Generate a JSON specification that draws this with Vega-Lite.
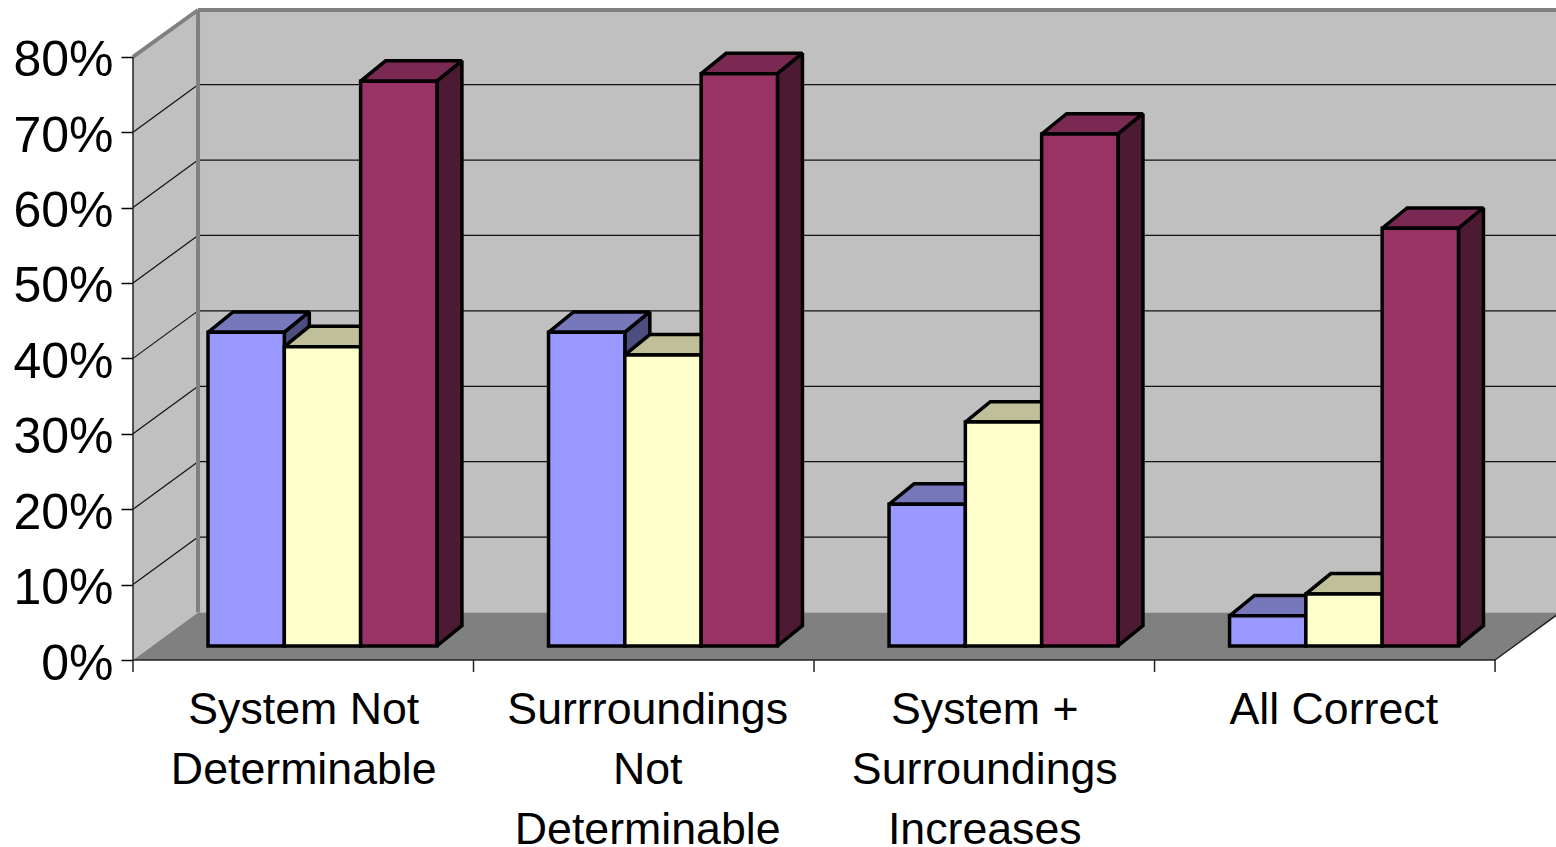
{
"$schema":"https://vega.github.io/schema/vega-lite/v6.json",
"width":1423,"height":650,"autosize":"none",
"padding":{"left":133,"top":10,"right":0,"bottom":187},
"background":"white",
"view":{"stroke":null},
"datasets":{
"bars":[
{"category":"System Not Determinable","series":"Series 1","value":41.6},
{"category":"System Not Determinable","series":"Series 2","value":39.7},
{"category":"System Not Determinable","series":"Series 3","value":74.9},
{"category":"Surrroundings Not Determinable","series":"Series 1","value":41.6},
{"category":"Surrroundings Not Determinable","series":"Series 2","value":38.6},
{"category":"Surrroundings Not Determinable","series":"Series 3","value":75.9},
{"category":"System + Surroundings Increases","series":"Series 1","value":18.8},
{"category":"System + Surroundings Increases","series":"Series 2","value":29.7},
{"category":"System + Surroundings Increases","series":"Series 3","value":67.9},
{"category":"All Correct","series":"Series 1","value":4.0},
{"category":"All Correct","series":"Series 2","value":6.9},
{"category":"All Correct","series":"Series 3","value":55.4}
],
"frame":[
{"id":"left","key":"wall","px":0,"lo":0,"hi":80},
{"id":"left","key":"wall","px":0.191,"lo":6.3,"hi":86.2},
{"id":"back","key":"wall","px":0.191,"lo":6.3,"hi":86.2},
{"id":"back","key":"wall","px":4.191,"lo":6.3,"hi":86.2},
{"id":"floor","key":"floor","px":0,"lo":0,"hi":0},
{"id":"floor","key":"floor","px":0.191,"lo":0,"hi":6.3},
{"id":"floor","key":"floor","px":4,"lo":0,"hi":6.3},
{"id":"floor","key":"floor","px":4.191,"lo":6.3,"hi":6.3}
],
"ticks":[{"t":10},{"t":20},{"t":30},{"t":40},{"t":50},{"t":60},{"t":70}],
"edges":[
{"px":0.191,"px2":0.191,"lo":6.3,"hi":86.2},
{"px":0.191,"px2":4.191,"lo":86.2,"hi":86.2},
{"px":0,"px2":0.191,"lo":80,"hi":86.2}
],
"frameLines":[
{"px":0,"px2":0,"lo":-1.6,"hi":80},
{"px":0,"px2":4,"lo":0,"hi":0},
{"px":1,"px2":1,"lo":-1.6,"hi":0},
{"px":2,"px2":2,"lo":-1.6,"hi":0},
{"px":3,"px2":3,"lo":-1.6,"hi":0},
{"px":4,"px2":4,"lo":-1.6,"hi":0},
{"px":4,"px2":4.191,"lo":0,"hi":6.3}
]
},
"encoding":{
"x":{"field":"px","type":"quantitative","scale":{"domain":[0,4.179],"nice":false,"zero":false},"title":null,
"axis":{"values":[0.5,1.51,2.5,3.525],"title":null,"grid":false,"domain":false,"ticks":false,"labelFont":"Liberation Sans","labelFontSize":44.7,"labelColor":"black","labelPadding":28,"labelLineHeight":60,"labelBaseline":"top","labelAlign":"center","labelOverlap":false,"labelBound":false,"labelFlush":false,"labelLimit":600,
"labelExpr":"[['System Not','Determinable'],['Surrroundings','Not','Determinable'],['System +','Surroundings','Increases'],['All Correct']][floor(datum.value)]"}},
"y":{"field":"lo","type":"quantitative","stack":null,"scale":{"domain":[0,86.2],"nice":false,"zero":false},"title":null,
"axis":{"values":[0,10,20,30,40,50,60,70,80],"title":null,"grid":false,"domain":false,"tickColor":"black","tickSize":12,"tickWidth":1.5,"labelFont":"Liberation Sans","labelFontSize":50,"labelColor":"black","labelPadding":8,"labelBaseline":"middle","labelOffset":4,"labelOverlap":false,"labelBound":false,"labelFlush":false,"labelExpr":"datum.value+'%'"}},
"y2":{"field":"hi"}
},
"layer":[
{"data":{"name":"frame"},"mark":{"type":"area","orient":"vertical"},
"encoding":{"detail":{"field":"id"},"color":{"field":"key","type":"nominal","legend":null,
"scale":{"domain":["wall","floor","Series 1|front","Series 1|top","Series 1|side","Series 2|front","Series 2|top","Series 2|side","Series 3|front","Series 3|top","Series 3|side"],
"range":["#C0C0C0","#808080","#9999FF","#7777BB","#4D4D80","#FFFFCC","#BFBF99","#808066","#993366","#7A2952","#4D1A33"]}}}},
{"data":{"name":"ticks"},"transform":[{"calculate":"0.191","as":"px"},{"calculate":"4.191","as":"px2"},{"calculate":"datum.t+6.3","as":"lo"},{"calculate":"datum.t+6.3","as":"hi"}],
"mark":{"type":"rule","color":"#111111","strokeWidth":1.2},"encoding":{"x2":{"field":"px2"}}},
{"data":{"name":"ticks"},"transform":[{"calculate":"0","as":"px"},{"calculate":"0.191","as":"px2"},{"calculate":"datum.t","as":"lo"},{"calculate":"datum.t+6.3","as":"hi"}],
"mark":{"type":"rule","color":"#111111","strokeWidth":1.2},"encoding":{"x2":{"field":"px2"}}},
{"data":{"name":"edges"},"mark":{"type":"rule","color":"#808080","strokeWidth":4},"encoding":{"x2":{"field":"px2"}}},
{"data":{"name":"frameLines"},"mark":{"type":"rule","color":"#222222","strokeWidth":1.5},"encoding":{"x2":{"field":"px2"}}},
{"data":{"name":"bars"},
"transform":[
{"calculate":"indexof(['System Not Determinable','Surrroundings Not Determinable','System + Surroundings Increases','All Correct'],datum.category)","as":"c"},
{"calculate":"indexof(['Series 1','Series 2','Series 3'],datum.series)","as":"s"},
{"calculate":"datum.c+0.2203+datum.s*0.2241","as":"x0"},
{"calculate":"1.857+datum.value","as":"h"},
{"calculate":"['top','side','front']","as":"faces"},
{"flatten":["faces"],"as":["face"]},
{"calculate":"datum.face==='top'?[0,1,2,3]:[0,1]","as":"pts"},
{"flatten":["pts"],"as":["pt"]},
{"calculate":"datum.face==='top'?datum.x0+[0,0.0734,0.2241,0.2975][datum.pt]:datum.face==='side'?datum.x0+0.2241+0.0734*datum.pt:datum.x0+0.2241*datum.pt","as":"px"},
{"calculate":"datum.face==='top'?datum.h+[0,0,0,2.7][datum.pt]:datum.face==='side'?1.857+2.7*datum.pt:1.857","as":"lo"},
{"calculate":"datum.face==='top'?datum.h+[0,2.7,2.7,2.7][datum.pt]:datum.face==='side'?datum.h+2.7*datum.pt:datum.h","as":"hi"},
{"calculate":"datum.series+'|'+datum.face","as":"key"},
{"calculate":"datum.category+'|'+datum.key","as":"id"}
],
"mark":{"type":"area","orient":"vertical","stroke":"black","strokeWidth":3.5,"strokeJoin":"miter","strokeMiterLimit":2},
"encoding":{"detail":{"field":"id"},"color":{"field":"key","type":"nominal","legend":null}}}
]
}
